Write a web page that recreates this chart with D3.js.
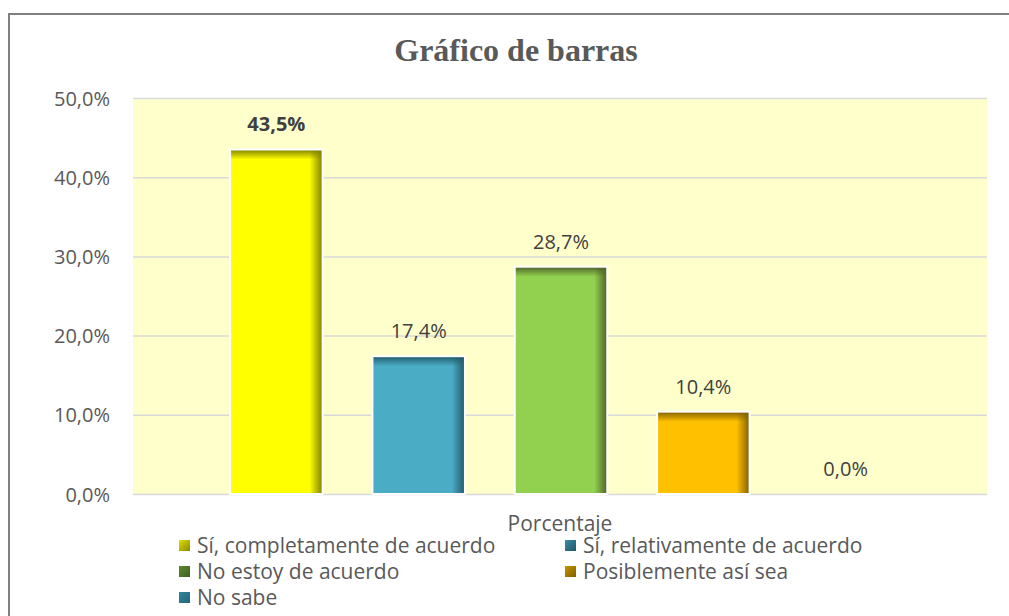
<!DOCTYPE html>
<html><head><meta charset="utf-8">
<script src="https://cdn.jsdelivr.net/npm/d3@7"></script>
<style>html,body{margin:0;padding:0;background:#fff;overflow:hidden}</style>
</head><body>
<svg id="c" width="1009" height="616"></svg>
<script>
const title = "Gráfico de barras";
const axisTitle = "Porcentaje";
const categories = ["Sí, completamente de acuerdo","Sí, relativamente de acuerdo","No estoy de acuerdo","Posiblemente así sea","No sabe"];
const values = [43.5, 17.4, 28.7, 10.4, 0.0];
const valueLabels = ["43,5%","17,4%","28,7%","10,4%","0,0%"];
const tickValues = [0,10,20,30,40,50];
const tickLabels = ["0,0%","10,0%","20,0%","30,0%","40,0%","50,0%"];

const barColors = ["#FFFF00","#4BACC6","#92D050","#FFC000","#31859C"];
const edgeColors = ["#7F7F00","#215968","#4F6228","#7F6000","#1F4E5C"];
const legendColors = [["#E0E000","#8A8A00"],["#3A8EA6","#1F5566"],["#5E8A30","#3F5E20"],["#C89400","#7F5E00"],["#31859C","#24647A"]];
const labelWeights = ["bold","normal","normal","500","500"];

const svg = d3.select("#c");
const L = 133, R = 987, T = 98, B = 494;

svg.append("rect").attr("x",9).attr("y",14).attr("width",1100).attr("height",700)
  .attr("fill","#fff").attr("stroke","#7F7F7F").attr("stroke-width",2);

const x = d3.scaleBand().domain(categories).range([L+1, R+1]).paddingInner(0.35).paddingOuter(0.675);
const y = d3.scaleLinear().domain([0,50]).range([B, T]);

svg.append("rect").attr("x",L).attr("y",T).attr("width",R-L).attr("height",B-T).attr("fill","#FFFFCC");

// gridlines
const grid = svg.append("g").attr("transform",`translate(${L},0)`)
  .call(d3.axisLeft(y).tickValues(tickValues).tickSize(-(R-L)).tickFormat(""));
grid.select(".domain").remove();
grid.selectAll("line").attr("stroke","#D9D9D9").attr("stroke-width",1.5);

// y axis labels
const ya = svg.append("g").attr("transform","translate(110,0)")
  .call(d3.axisLeft(y).tickValues(tickValues).tickSize(0).tickPadding(0).tickFormat((d,i)=>tickLabels[i]));
ya.select(".domain").remove();
ya.selectAll("text").attr("font-family","'Open Sans'").attr("font-size",20).attr("fill","#595959").attr("dy","0.35em");

// gradients
const defs = svg.append("defs");
edgeColors.forEach((c,i)=>{
  const gr = defs.append("linearGradient").attr("id","gr"+i).attr("x1",0).attr("x2",1).attr("y1",0).attr("y2",0);
  gr.append("stop").attr("offset",0).attr("stop-color",c).attr("stop-opacity",0);
  gr.append("stop").attr("offset",1).attr("stop-color",c).attr("stop-opacity",1);
  const gt = defs.append("linearGradient").attr("id","gt"+i).attr("x1",0).attr("x2",0).attr("y1",0).attr("y2",1);
  gt.append("stop").attr("offset",0).attr("stop-color",c).attr("stop-opacity",1);
  gt.append("stop").attr("offset",1).attr("stop-color",c).attr("stop-opacity",0);
  const gl = defs.append("linearGradient").attr("id","gl"+i).attr("x1",0).attr("x2",1).attr("y1",0).attr("y2",1);
  gl.append("stop").attr("offset",0).attr("stop-color",legendColors[i][0]);
  gl.append("stop").attr("offset",1).attr("stop-color",legendColors[i][1]);
});

const bars = svg.append("g").selectAll("g").data(categories).join("g");
bars.filter((d,i)=>values[i]>0).each(function(d){
  const idx = categories.indexOf(d);
  const g = d3.select(this);
  const bx = x(d), bw = x.bandwidth(), by = y(values[idx]), bh = B - y(values[idx]);
  g.append("rect").attr("x",bx).attr("y",by).attr("width",bw).attr("height",bh).attr("fill",barColors[idx]);
  g.append("rect").attr("x",bx+bw-13).attr("y",by).attr("width",13).attr("height",bh).attr("fill",`url(#gr${idx})`);
  g.append("rect").attr("x",bx).attr("y",by).attr("width",bw).attr("height",10).attr("fill",`url(#gt${idx})`);
  g.append("rect").attr("x",bx).attr("y",by).attr("width",bw).attr("height",bh)
    .attr("fill","none").attr("stroke","#fff").attr("stroke-width",2);
});

// value labels
svg.append("g").selectAll("text").data(categories).join("text")
  .attr("x",d=>x(d)+x.bandwidth()/2)
  .attr("y",(d,i)=>y(values[i])-25)
  .attr("dy","0.35em")
  .attr("text-anchor","middle")
  .attr("font-family","'Open Sans'").attr("font-size",20)
  .attr("font-weight",(d,i)=>labelWeights[i])
  .attr("fill","#404040")
  .text((d,i)=>valueLabels[i]);

// axis title
svg.append("text").attr("x",560).attr("y",531).attr("text-anchor","middle")
  .attr("font-family","'Open Sans'").attr("font-size",21).attr("fill","#595959").text(axisTitle);

// legend
const legPos = [[179,553],[565,553],[179,579],[565,579],[179,605]];
const leg = svg.append("g").selectAll("g").data(categories).join("g")
  .attr("transform",(d,i)=>`translate(${legPos[i][0]},${legPos[i][1]})`);
leg.append("rect").attr("x",0).attr("y",-13).attr("width",11).attr("height",11)
  .attr("fill",(d,i)=>`url(#gl${i})`);
leg.append("text").attr("x",18).attr("y",0)
  .attr("font-family","'Open Sans'").attr("font-size",21).attr("fill","#595959").text(d=>d);

// title
svg.append("text").attr("x",516).attr("y",61).attr("text-anchor","middle")
  .attr("font-family","'Liberation Serif'").attr("font-weight","bold").attr("font-size",32)
  .attr("fill","#595959").text(title);
</script>
</body></html>
